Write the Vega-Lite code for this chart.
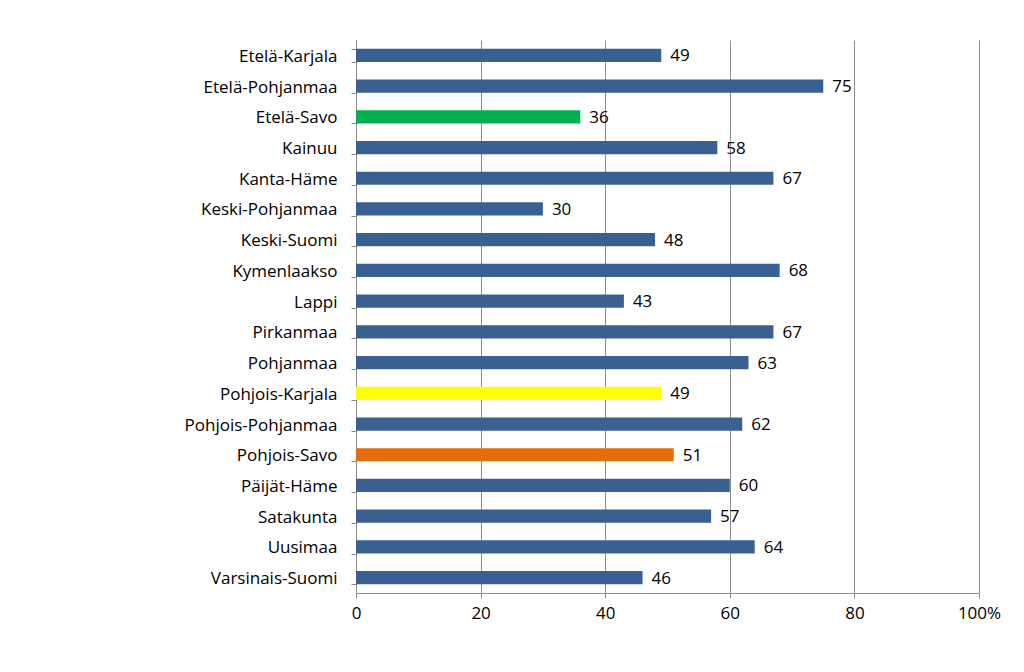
{
  "$schema": "https://vega.github.io/schema/vega-lite/v6.json",
  "autosize": {"type": "none"},
  "padding": {"left": 356, "top": 40, "right": 45, "bottom": 79},
  "width": 623,
  "height": 553,
  "background": "white",
  "data": {"values": [
    {"region": "Etelä-Karjala", "value": 49, "group": "base"},
    {"region": "Etelä-Pohjanmaa", "value": 75, "group": "base"},
    {"region": "Etelä-Savo", "value": 36, "group": "green"},
    {"region": "Kainuu", "value": 58, "group": "base"},
    {"region": "Kanta-Häme", "value": 67, "group": "base"},
    {"region": "Keski-Pohjanmaa", "value": 30, "group": "base"},
    {"region": "Keski-Suomi", "value": 48, "group": "base"},
    {"region": "Kymenlaakso", "value": 68, "group": "base"},
    {"region": "Lappi", "value": 43, "group": "base"},
    {"region": "Pirkanmaa", "value": 67, "group": "base"},
    {"region": "Pohjanmaa", "value": 63, "group": "base"},
    {"region": "Pohjois-Karjala", "value": 49, "group": "yellow"},
    {"region": "Pohjois-Pohjanmaa", "value": 62, "group": "base"},
    {"region": "Pohjois-Savo", "value": 51, "group": "orange"},
    {"region": "Päijät-Häme", "value": 60, "group": "base"},
    {"region": "Satakunta", "value": 57, "group": "base"},
    {"region": "Uusimaa", "value": 64, "group": "base"},
    {"region": "Varsinais-Suomi", "value": 46, "group": "base"}
  ]},
  "config": {
    "view": {"stroke": null},
    "font": "Open Sans"
  },
  "encoding": {
    "y": {
      "field": "region", "type": "nominal", "sort": null,
      "scale": {"paddingInner": 0.57, "paddingOuter": 0.285},
      "axis": {
        "title": null, "tickBand": "extent", "tickSize": 5, "tickColor": "#888888",
        "domainColor": "#888888", "labelFontSize": 17, "labelColor": "#000000",
        "labelPadding": 14, "labelFont": "Open Sans", "grid": false, "labelOffset": 1
      }
    },
    "x": {
      "field": "value", "type": "quantitative",
      "scale": {"domain": [0, 100], "nice": false},
      "axis": {
        "title": null, "values": [0, 20, 40, 60, 80, 100], "grid": true,
        "gridColor": "#8c8c8c", "gridOpacity": 1, "tickSize": 5, "tickColor": "#8c8c8c",
        "domainColor": "#8c8c8c", "labelFontSize": 17, "labelColor": "#000000",
        "labelPadding": 7, "labelFont": "Open Sans", "labelFlush": false,
        "labelExpr": "datum.value == 100 ? '100%' : datum.label",
        "encode": {"labels": {"update": {"dx": {"signal": "datum.value == 100 ? 7 : 0"}}}}
      }
    }
  },
  "layer": [
    {
      "mark": {"type": "bar"},
      "encoding": {
        "color": {
          "field": "group", "type": "nominal", "legend": null,
          "scale": {"domain": ["base", "green", "yellow", "orange"],
                    "range": ["#3A5F91", "#00B050", "#FFFF00", "#E46C0A"]}
        }
      }
    },
    {
      "mark": {"type": "text", "align": "left", "baseline": "middle", "dx": 9, "dy": 1, "fontSize": 17, "color": "#000000", "font": "Open Sans"},
      "encoding": {"text": {"field": "value", "type": "quantitative"}}
    }
  ]
}
